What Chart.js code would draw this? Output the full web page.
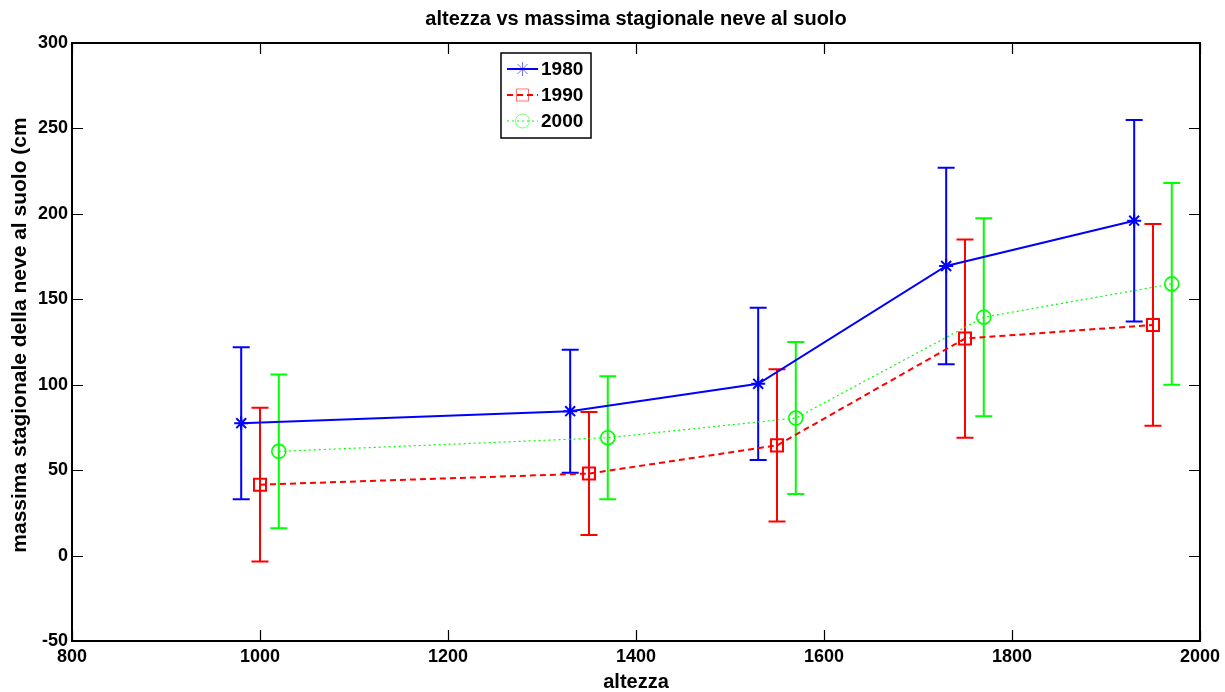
<!DOCTYPE html>
<html>
<head>
<meta charset="utf-8">
<script src="https://cdn.jsdelivr.net/npm/chart.js@4/dist/chart.umd.min.js"></script>
<style>
html,body{margin:0;padding:0;background:#fff;}
#wrap{width:1225px;height:692px;position:relative;}
</style>
</head>
<body>
<div id="wrap"><canvas id="c" width="1225" height="692"></canvas></div>
<script>
// ---- data ----
const seriesNames = ['1980', '1990', '2000'];
const altitudes1980 = [980, 1330, 1530, 1730, 1930];
const values1980 = [77.5, 84.5, 100.5, 169.5, 196];
const errors1980 = [44.5, 36, 44.5, 57.5, 59];
const altitudes1990 = [1000, 1350, 1550, 1750, 1950];
const values1990 = [41.5, 48, 64.5, 127, 135];
const errors1990 = [45, 36, 44.5, 58, 59];
const altitudes2000 = [1020, 1370, 1570, 1770, 1970];
const values2000 = [61, 69, 80.5, 139.5, 159];
const errors2000 = [45, 36, 44.5, 58, 59];
const xTicks = [800, 1000, 1200, 1400, 1600, 1800, 2000];
const yTicks = [-50, 0, 50, 100, 150, 200, 250, 300];
const titleText = 'altezza vs massima stagionale neve al suolo';
const xTitle = 'altezza';
const yTitle = 'massima stagionale della neve al suolo (cm';

const allX = [altitudes1980, altitudes1990, altitudes2000];
const allY = [values1980, values1990, values2000];
const allE = [errors1980, errors1990, errors2000];
const colors = ['#0000ff', '#ff0000', '#00ff00'];
const styles = [
  {pointStyle: 'star', radius: 7, bw: 2, dash: [], lw: 2},
  {pointStyle: 'rect', radius: 8.5, bw: 2, dash: [6, 4], lw: 2},
  {pointStyle: 'circle', radius: 7, bw: 1.6, dash: [2, 3], lw: 1.2}
];
const FONT = '"Liberation Sans", Arial, Helvetica, sans-serif';

const datasets = seriesNames.map((name, i) => ({
  label: name,
  data: allX[i].map((x, j) => ({x: x, y: allY[i][j]})),
  showLine: true,
  borderColor: colors[i],
  borderWidth: styles[i].lw,
  borderDash: styles[i].dash,
  pointStyle: styles[i].pointStyle,
  pointRadius: styles[i].radius,
  pointHoverRadius: styles[i].radius,
  pointBorderWidth: styles[i].bw,
  pointBorderColor: colors[i],
  pointBackgroundColor: 'rgba(0,0,0,0)',
  fill: false,
  tension: 0
}));

const decor = {
  id: 'decor',
  beforeDatasetsDraw(chart) {
    const ctx = chart.ctx, xs = chart.scales.x, ys = chart.scales.y;
    ctx.save();
    ctx.setLineDash([]);
    for (let i = 0; i < allX.length; i++) {
      ctx.strokeStyle = colors[i];
      ctx.lineWidth = 2;
      for (let j = 0; j < allX[i].length; j++) {
        const px = xs.getPixelForValue(allX[i][j]);
        const top = ys.getPixelForValue(allY[i][j] + allE[i][j]);
        const bot = ys.getPixelForValue(allY[i][j] - allE[i][j]);
        const cap = 8.5;
        ctx.beginPath();
        ctx.moveTo(px, top); ctx.lineTo(px, bot);
        ctx.moveTo(px - cap, top); ctx.lineTo(px + cap, top);
        ctx.moveTo(px - cap, bot); ctx.lineTo(px + cap, bot);
        ctx.stroke();
      }
    }
    ctx.restore();
  },
  afterDraw(chart) {
    const ctx = chart.ctx, a = chart.chartArea, xs = chart.scales.x, ys = chart.scales.y;
    ctx.save();
    // box
    ctx.strokeStyle = '#000';
    ctx.lineWidth = 2;
    ctx.setLineDash([]);
    ctx.strokeRect(a.left, a.top, a.right - a.left, a.bottom - a.top);
    // inward ticks
    ctx.lineWidth = 1.2;
    const tl = 11;
    ctx.beginPath();
    xTicks.forEach(v => {
      const p = Math.round(xs.getPixelForValue(v)) + 0.5;
      ctx.moveTo(p, a.bottom); ctx.lineTo(p, a.bottom - tl);
      ctx.moveTo(p, a.top); ctx.lineTo(p, a.top + tl);
    });
    yTicks.forEach(v => {
      const p = Math.round(ys.getPixelForValue(v)) + 0.5;
      ctx.moveTo(a.left, p); ctx.lineTo(a.left + tl, p);
      ctx.moveTo(a.right, p); ctx.lineTo(a.right - tl, p);
    });
    ctx.stroke();
    // title
    ctx.fillStyle = '#000';
    ctx.font = 'bold 20px ' + FONT;
    ctx.textAlign = 'center';
    ctx.textBaseline = 'middle';
    ctx.fillText(titleText, (a.left + a.right) / 2, 19);
    // x title
    ctx.fillText(xTitle, (a.left + a.right) / 2, 682);
    // y title
    ctx.save();
    ctx.font = 'bold 21px ' + FONT;
    ctx.translate(20, 335);
    ctx.rotate(-Math.PI / 2);
    ctx.fillText(yTitle, 0, 0);
    ctx.restore();
    // legend
    const lx = 501, ly = 53, lw = 90, lh = 85;
    ctx.fillStyle = '#fff';
    ctx.fillRect(lx, ly, lw, lh);
    ctx.strokeStyle = '#000';
    ctx.lineWidth = 1.5;
    ctx.strokeRect(lx, ly, lw, lh);
    const rowY = [69, 95, 121];
    for (let i = 0; i < seriesNames.length; i++) {
      const y = rowY[i];
      ctx.strokeStyle = colors[i];
      ctx.lineWidth = styles[i].lw;
      ctx.setLineDash(styles[i].dash);
      ctx.beginPath();
      ctx.moveTo(507, y); ctx.lineTo(538, y);
      ctx.stroke();
      ctx.setLineDash([]);
      ctx.globalAlpha = 0.55;
      ctx.lineWidth = 1;
      ctx.fillStyle = 'rgba(0,0,0,0)';
      ctx.strokeStyle = colors[i];
      Chart.helpers.drawPoint(ctx, {pointStyle: styles[i].pointStyle, radius: styles[i].radius, rotation: 0, borderWidth: 1}, 522.5, y);
      ctx.globalAlpha = 1;
      ctx.fillStyle = '#000';
      ctx.font = 'bold 19px ' + FONT;
      ctx.textAlign = 'left';
      ctx.textBaseline = 'middle';
      ctx.fillText(seriesNames[i], 541, y + 1);
    }
    ctx.restore();
  }
};

new Chart(document.getElementById('c'), {
  type: 'scatter',
  data: {datasets: datasets},
  options: {
    responsive: false,
    animation: false,
    devicePixelRatio: 1,
    layout: {padding: {top: 43, right: 25, left: 0, bottom: 0}},
    plugins: {legend: {display: false}, title: {display: false}, tooltip: {enabled: false}},
    scales: {
      x: {
        type: 'linear', min: 800, max: 2000,
        afterFit(s) { s.height = 51; },
        afterBuildTicks(s) { s.ticks = xTicks.map(v => ({value: v})); },
        grid: {display: false, drawTicks: false},
        border: {display: false},
        ticks: {autoSkip: false, maxRotation: 0, padding: 5, color: '#000',
                callback: v => String(v),
                font: {family: FONT, size: 18, weight: 'bold'}}
      },
      y: {
        type: 'linear', min: -50, max: 300,
        afterFit(s) { s.width = 72; },
        afterBuildTicks(s) { s.ticks = yTicks.map(v => ({value: v})); },
        grid: {display: false, drawTicks: false},
        border: {display: false},
        ticks: {autoSkip: false, padding: 4, color: '#000',
                callback: v => String(v),
                font: {family: FONT, size: 18, weight: 'bold'}}
      }
    }
  },
  plugins: [decor]
});
</script>
</body>
</html>
